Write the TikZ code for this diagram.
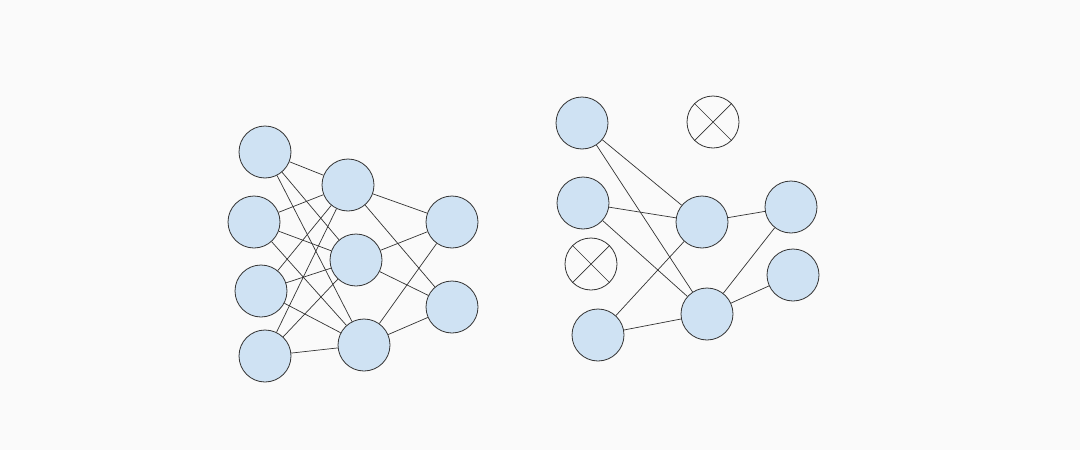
\documentclass[tikz,border=0pt]{standalone}
\definecolor{nodefill}{HTML}{CFE2F3}
\definecolor{bg}{HTML}{FAFAFA}
\definecolor{ln}{HTML}{333333}
\begin{document}
\begin{tikzpicture}[x=1pt,y=-1pt,
  neuron/.style={circle,draw=ln,fill=nodefill,line width=0.8pt,minimum size=52pt,inner sep=0pt},
  dropped/.style={circle,draw=ln,fill=bg,line width=0.8pt,minimum size=52pt,inner sep=0pt},
  conn/.style={draw=ln,line width=0.7pt}]
\fill[bg] (0,0) rectangle (1080,450);
\useasboundingbox (0,0) rectangle (1080,450);
% left network
\node[neuron] (l1) at (265,152) {};
\node[neuron] (l2) at (254,222) {};
\node[neuron] (l3) at (261,291) {};
\node[neuron] (l4) at (265,356) {};
\node[neuron] (m1) at (348,185) {};
\node[neuron] (m2) at (356,260) {};
\node[neuron] (m3) at (364,345) {};
\node[neuron] (o1) at (452,222) {};
\node[neuron] (o2) at (452,307) {};
\begin{scope}[on background layer/.try]
\end{scope}
% right network
\node[neuron] (a1) at (582,123) {};
\node[neuron] (a2) at (583,203) {};
\node[dropped] (ax) at (591,264) {};
\node[neuron] (a4) at (598,335) {};
\node[neuron] (b1) at (702,222) {};
\node[neuron] (b2) at (707,314) {};
\node[dropped] (bx) at (713,122) {};
\node[neuron] (c1) at (791,207) {};
\node[neuron] (c2) at (793,275) {};
\foreach \s in {l1,l2,l3,l4}{\foreach \t in {m1,m2,m3}{\draw[conn] (\s) -- (\t);}}
\foreach \s in {m1,m2,m3}{\foreach \t in {o1,o2}{\draw[conn] (\s) -- (\t);}}
\foreach \s/\t in {a1/b1,a1/b2,a2/b1,a2/b2,a4/b1,a4/b2,b1/c1,b2/c1,b2/c2}{\draw[conn] (\s) -- (\t);}
\foreach \n in {ax,bx}{\draw[conn] (\n.north west) -- (\n.south east) (\n.north east) -- (\n.south west);}
\end{tikzpicture}
\end{document}
